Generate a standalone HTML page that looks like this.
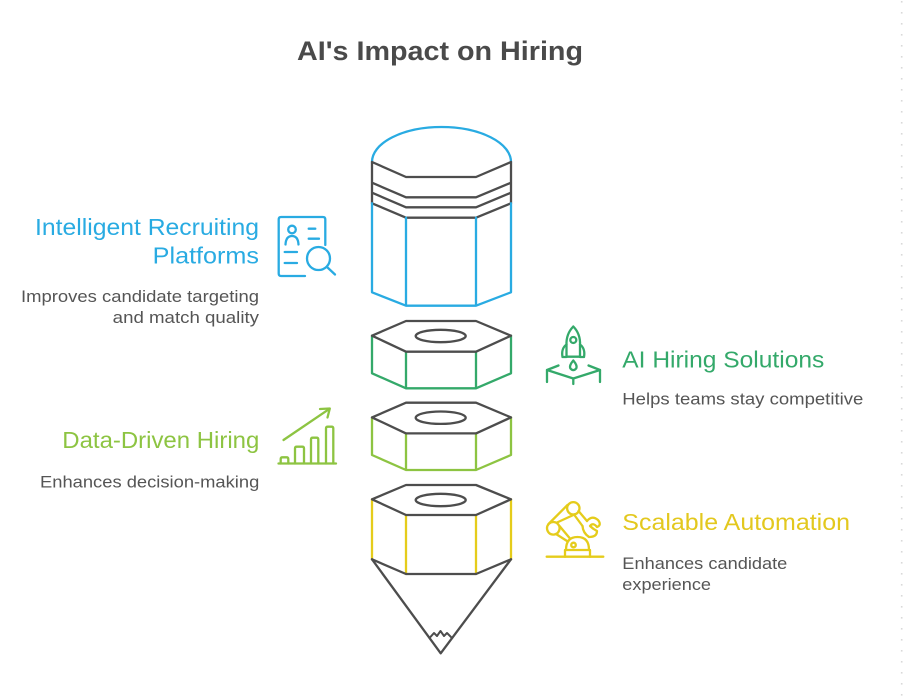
<!DOCTYPE html>
<html>
<head>
<meta charset="utf-8">
<style>
html,body{margin:0;padding:0;background:#fff;}
svg{display:block;}
text{font-family:"Liberation Sans",Arial,sans-serif;}
</style>
</head>
<body>
<svg width="912" height="697" viewBox="0 0 912 697" xmlns="http://www.w3.org/2000/svg">
<rect width="912" height="697" fill="#ffffff"/>
<!-- dotted right line -->
<line x1="901.7" y1="1" x2="901.7" y2="697" stroke="#d9d9d9" stroke-width="1.6" stroke-dasharray="1.6 9.4"/>

<!-- Title -->
<text x="297" y="60" font-size="27" font-weight="bold" fill="#4a4a4a" textLength="286" lengthAdjust="spacingAndGlyphs">AI's Impact on Hiring</text>

<g fill="none" stroke-width="2.3" stroke-linejoin="round" stroke-linecap="round">
  <!-- Top piece -->
  <path d="M372,162 A69.5,35 0 0 1 511,162" stroke="#29abe2"/>
  <path d="M372,162 L406,177 L476,177 L511,162 M372,182.7 L406,197.3 L476,197.3 L511,182.7 M372,192.7 L406,207.3 L476,207.3 L511,192.7 M372,203.3 L406,217.7 L476,217.7 L511,203.3 M372,162 V203.3 M511,162 V203.3" stroke="#4d4d4d"/>
  <path d="M372,203.3 V292.3 L406,305.7 L476,305.7 L511,292.3 V203.3 M406,217.7 V305.7 M476,217.7 V305.7" stroke="#29abe2"/>

  <!-- Nut 1 -->
  <path d="M372,335.7 V373.3 L406,388.3 L476,388.3 L511,373.3 V335.7 M406,351.7 V388.3 M476,351.7 V388.3" stroke="#34a96a"/>
  <path d="M372,335.7 L406,321 L476,321 L511,335.7 L476,351.7 L406,351.7 Z" stroke="#4d4d4d"/>
  <ellipse cx="440.7" cy="336" rx="25" ry="6.2" stroke="#4d4d4d"/>

  <!-- Nut 2 -->
  <g transform="translate(0,81.7)">
    <path d="M372,335.7 V373.3 L406,388.3 L476,388.3 L511,373.3 V335.7 M406,351.7 V388.3 M476,351.7 V388.3" stroke="#8dc442"/>
    <path d="M372,335.7 L406,321 L476,321 L511,335.7 L476,351.7 L406,351.7 Z" stroke="#4d4d4d"/>
    <ellipse cx="440.7" cy="336" rx="25" ry="6.2" stroke="#4d4d4d"/>
  </g>

  <!-- Nut 3 -->
  <path d="M372,499.3 V559.3 M511,499.3 V559.3 M406,515 V574 M476,515 V574" stroke="#e5cc1b"/>
  <path d="M372,559.3 L406,574 L476,574 L511,559.3" stroke="#4d4d4d"/>
  <path d="M372,499.3 L406,485 L476,485 L511,499.3 L476,515 L406,515 Z" stroke="#4d4d4d"/>
  <ellipse cx="440.7" cy="500" rx="25" ry="6.2" stroke="#4d4d4d"/>

  <!-- Cone -->
  <path d="M372,559.3 L440.7,653.3 L511,559.3" stroke="#4d4d4d"/>
  <path d="M429.5,638 L434,633 L437,636 L440.5,631 L444,636 L447,633 L452,638" stroke="#4d4d4d" stroke-width="2"/>
</g>

<!-- Icon 1: document + magnifier (blue) -->
<g fill="none" stroke="#29abe2" stroke-width="2.3" stroke-linecap="round" stroke-linejoin="round">
  <path d="M305,276 H281 Q278.7,276 278.7,273.5 V219.5 Q278.7,217 281,217 H323 Q325.3,217 325.3,219.5 V245"/>
  <circle cx="292" cy="229.5" r="3.8"/>
  <path d="M285.5,244.5 Q286,236 292,236 Q298,236 298.5,244.5"/>
  <path d="M308.7,228.7 H315.3 M308.7,238.7 H319"/>
  <path d="M284.7,252 H297 M284.7,263 H297"/>
  <circle cx="318.5" cy="258.5" r="11.5"/>
  <path d="M327,267 L335,274.5"/>
</g>

<!-- Icon 2: chart (lime) -->
<g fill="none" stroke="#8dc442" stroke-width="2.3" stroke-linecap="round" stroke-linejoin="round">
  <path d="M278.5,463.5 H336"/>
  <path d="M280.7,463.5 V459 Q280.7,457.3 282.5,457.3 H286.5 Q288.3,457.3 288.3,459 V463.5"/>
  <path d="M295,463.5 V448.5 Q295,446.7 296.8,446.7 H302.2 Q304,446.7 304,448.5 V463.5"/>
  <path d="M311,463.5 V439.5 Q311,437.7 312.8,437.7 H316.5 Q318.3,437.7 318.3,439.5 V463.5"/>
  <path d="M326,463.5 V428.5 Q326,426.7 327.8,426.7 H331.5 Q333.3,426.7 333.3,428.5 V463.5"/>
  <path d="M283.5,440 L329.5,408.8"/>
  <path d="M320,409 L329.8,408.5 L327.5,417.5"/>
</g>

<!-- Icon 3: rocket (green) -->
<g fill="none" stroke="#34a96a" stroke-width="2.3" stroke-linecap="round" stroke-linejoin="round">
  <path d="M573.3,326.5 Q566,334 566.5,345 V356.7 H580 V345 Q580.6,334 573.3,326.5 Z"/>
  <circle cx="573.3" cy="340" r="3"/>
  <path d="M566.5,344.5 Q561,348.5 562.5,357 H566.5"/>
  <path d="M580,344.5 Q585.5,348.5 584,357 H580"/>
  <path d="M573.3,360.5 Q569,365.5 570.3,368.3 Q573.3,372 576.3,368.3 Q577.6,365.5 573.3,360.5 Z"/>
  <path d="M558.5,365.5 L547,370 L573.3,378.5 L600,370 L588.5,365.5"/>
  <path d="M547,370 V382 M600,370 V382 M573.3,378.5 V384"/>
</g>

<!-- Icon 4: robot arm (yellow) -->
<g fill="none" stroke="#e5cc1b" stroke-width="2.3" stroke-linecap="round" stroke-linejoin="round">
  <path d="M546.7,556.7 H603.3"/>
  <path d="M565,556.7 V550 H590 V556.7"/>
  <path d="M566,550 Q566,537 577.5,537 Q589,537 589,550"/>
  <circle cx="573.5" cy="545" r="2.3"/>
  <circle cx="553.3" cy="528.3" r="6.3"/>
  <circle cx="573.3" cy="508.3" r="6.2"/>
  <path d="M556,534 L567,541 M559.5,526 L570,538.5"/>
  <path d="M548.5,524 L567.5,505 M557,522.5 L574.5,514.5"/>
  <path d="M578.5,511 L587,521 M574,514.5 L582.5,526"/>
  <path d="M587,521 Q592,515 598,520 Q602,525 597,527 Q593,522 590,526 Q593,529 597,531 Q597,537 589,537 Q583,533 582.5,526"/>
</g>

<!-- Left texts -->
<g fill="#29abe2" font-size="23">
  <text x="35" y="235" textLength="224" lengthAdjust="spacingAndGlyphs">Intelligent Recruiting</text>
  <text x="152.7" y="263.5" textLength="106.3" lengthAdjust="spacingAndGlyphs">Platforms</text>
</g>
<g fill="#555555" font-size="17">
  <text x="21" y="302" textLength="238" lengthAdjust="spacingAndGlyphs">Improves candidate targeting</text>
  <text x="112.7" y="323" textLength="146.3" lengthAdjust="spacingAndGlyphs">and match quality</text>
</g>
<text x="62.3" y="448" fill="#8dc442" font-size="23" textLength="197" lengthAdjust="spacingAndGlyphs">Data-Driven Hiring</text>
<text x="40" y="487.5" fill="#555555" font-size="17" textLength="219.3" lengthAdjust="spacingAndGlyphs">Enhances decision-making</text>

<!-- Right texts -->
<text x="622.3" y="367.5" fill="#34a96a" font-size="23" textLength="202" lengthAdjust="spacingAndGlyphs">AI Hiring Solutions</text>
<text x="622.3" y="404.5" fill="#555555" font-size="17" textLength="241" lengthAdjust="spacingAndGlyphs">Helps teams stay competitive</text>
<text x="622.3" y="530" fill="#e3c81e" font-size="23" textLength="227.7" lengthAdjust="spacingAndGlyphs">Scalable Automation</text>
<text x="622.3" y="569" fill="#555555" font-size="17" textLength="165" lengthAdjust="spacingAndGlyphs">Enhances candidate</text>
<text x="622.3" y="590" fill="#555555" font-size="17" textLength="88.7" lengthAdjust="spacingAndGlyphs">experience</text>
</svg>
</body>
</html>
